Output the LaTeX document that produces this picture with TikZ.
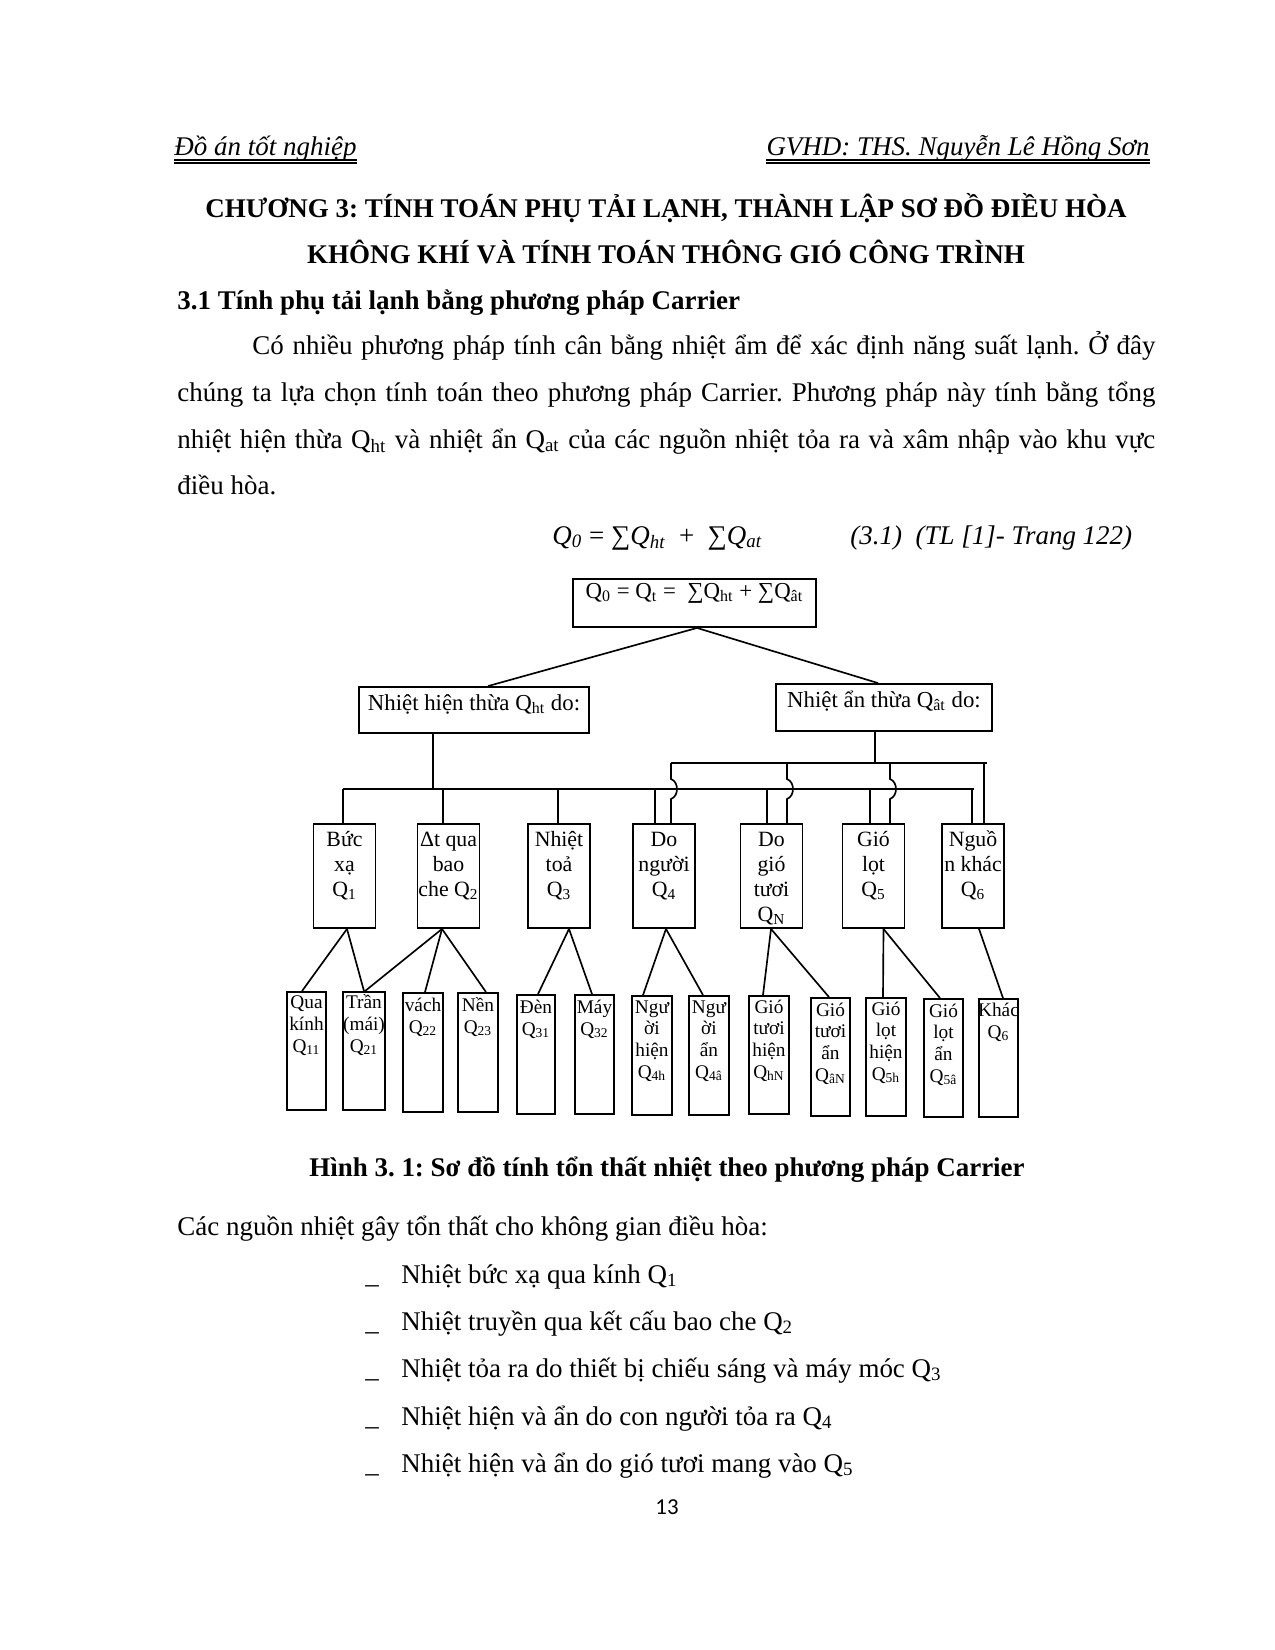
\documentclass[tikz,border=0pt]{standalone}
\usepackage{fontspec}
\setmainfont{Liberation Serif}
\newfontfamily\pnfont{Carlito}
\usetikzlibrary{calc}
\newdimen\pxu \pxu=0.48184pt
\newcommand\qsb[1]{\textsubscript{#1}}
\frenchspacing
\begin{document}
\begin{tikzpicture}[x=0.48184pt, y=-0.48184pt,
  body/.style={inner sep=0pt, font=\fontsize{13}{22.6}\selectfont},
  hd/.style={inner sep=0pt, font=\fontsize{13}{15}\selectfont\itshape},
  ttl/.style={inner sep=0pt, font=\fontsize{13}{15}\selectfont\bfseries},
  dt/.style={inner sep=0pt, anchor=base, font=\fontsize{11}{12}\selectfont},
  mtxt/.style={inner sep=0pt, align=center, anchor=base, font=\fontsize{10.5}{12}\selectfont},
  btxt/.style={inner sep=0pt, align=center, anchor=base, font=\fontsize{9.3}{10.4}\selectfont},
  box/.style={draw, line width=0.9pt, inner sep=0pt},
  mbox/.style={box, minimum width=62*\pxu, minimum height=104*\pxu},
  conn/.style={line width=0.8pt}]
\useasboundingbox (0,0) rectangle (1275,1650);
\fill[white] (0,0) rectangle (1275,1650);

% header
\node[hd, anchor=base west] (h1) at (174,155) {Đồ án tốt nghiệp};
\node[hd, anchor=base east] (h2) at (1150,155) {GVHD: THS. Nguyễn Lê Hồng Sơn};
\draw[line width=0.5pt] ($(h1.base west)+(0,5)$) -- ($(h1.base east)+(0,5)$);
\draw[line width=0.5pt] ($(h1.base west)+(0,8)$) -- ($(h1.base east)+(0,8)$);
\draw[line width=0.5pt] ($(h2.base west)+(0,5)$) -- ($(h2.base east)+(0,5)$);
\draw[line width=0.5pt] ($(h2.base west)+(0,8)$) -- ($(h2.base east)+(0,8)$);

% titles
\node[ttl, anchor=base] (t1) at (666,217) {CHƯƠNG 3: TÍNH TOÁN PHỤ TẢI LẠNH, THÀNH LẬP SƠ ĐỒ ĐIỀU HÒA};
\node[ttl, anchor=base] (t2) at (666,263) {KHÔNG KHÍ VÀ TÍNH TOÁN THÔNG GIÓ CÔNG TRÌNH};
\node[ttl, anchor=base west] (sec) at (177,309) {3.1 Tính phụ tải lạnh bằng phương pháp Carrier};

% paragraph
\node[body, anchor=base west] (p1) at (252,354) {\makebox[903\pxu][s]{Có nhiều phương pháp tính cân bằng nhiệt ẩm để xác định năng suất lạnh. Ở đây}};
\node[body, anchor=base west] (p2) at (177,401) {\makebox[978\pxu][s]{chúng ta lựa chọn tính toán theo phương pháp Carrier. Phương pháp này tính bằng tổng}};
\node[body, anchor=base west] (p3) at (177,448) {\makebox[978\pxu][s]{nhiệt hiện thừa Q\qsb{ht} và nhiệt ẩn Q\qsb{at} của các nguồn nhiệt tỏa ra và xâm nhập vào khu vực}};
\node[body, anchor=base west] (p4) at (177,494) {điều hòa.};

% formula
\node[body, anchor=base west] (f1) at (552,544) {\textit{Q\textsubscript{0}} = ∑\textit{Q\textsubscript{ht}} \ + \ ∑\textit{Q\textsubscript{at}}};
\node[body, anchor=base west] (f2) at (850,544) {\textit{(3.1) \ (TL [1]- Trang 122)}};

% ---------------- diagram ----------------
\node[box, minimum width=243*\pxu, minimum height=48*\pxu] (T) at (694.5,603) {};
\node[dt] (Tt) at (694.5,598) {Q\qsb{0} = Q\qsb{t} = \ ∑Q\qsb{ht} + ∑Q\qsb{ât}};
\node[box, minimum width=230*\pxu, minimum height=46*\pxu] (L) at (474,710) {};
\node[dt] (Lt) at (474,710) {Nhiệt hiện thừa Q\qsb{ht} do:};
\node[box, minimum width=216*\pxu, minimum height=47*\pxu] (R) at (884,707.5) {};
\node[dt] (Rt) at (884,707) {Nhiệt ẩn thừa Q\qsb{ât} do:};

\draw[conn] ($(T.south)+(2.5,0)$) -- ($(L.north)+(14,0)$);
\draw[conn] ($(T.south)+(2.5,0)$) -- ($(R.north)+(-6,0)$);

% middle boxes
\node[mbox] (m1) at (344.5,876) {};
\node[mbox] (m2) at (448.5,876) {};
\node[mbox] (m3) at (559,876) {};
\node[mbox] (m4) at (664,876) {};
\node[mbox] (m5) at (771.5,876) {};
\node[mbox] (m6) at (873.5,876) {};
\node[mbox] (m7) at (973,876) {};
% (base = last line; first line baseline at 846)
\node[mtxt] (m1t) at (344.5,896) {Bức\\xạ\\Q\qsb{1}};
\node[mtxt] (m2t) at (448.5,896) {Δt qua\\bao\\che Q\qsb{2}};
\node[mtxt] (m3t) at (559,896) {Nhiệt\\toả\\Q\qsb{3}};
\node[mtxt] (m4t) at (664,896) {Do\\người\\Q\qsb{4}};
\node[mtxt] (m5t) at (771.5,921) {Do\\gió\\tươi\\Q\qsb{N}};
\node[mtxt] (m6t) at (873.5,896) {Gió\\lọt\\Q\qsb{5}};
\node[mtxt] (m7t) at (973,896) {Nguồ\\n khác\\Q\qsb{6}};

% bus 1 (sensible)
\coordinate (j1) at (433,789);
\draw[conn] (L.south -| j1) -- (j1);
\coordinate (a1) at (343,789);
\coordinate (a2) at (443,789);
\coordinate (a3) at (558,789);
\coordinate (a4) at (655,789);
\coordinate (a5) at (767,789);
\coordinate (a6) at (870,789);
\coordinate (a7) at (972,789);
\coordinate (aE) at (974,789);
\draw[conn] (a1) -- (aE);
\foreach \i in {1,...,7} \draw[conn] (a\i) -- (m\i.north -| a\i);

% bus 2 (latent)
\coordinate (j2) at (875,763);
\draw[conn] (R.south -| j2) -- (j2);
\coordinate (u4) at (671,763);
\coordinate (u5) at (787,763);
\coordinate (u6) at (890,763);
\coordinate (u7) at (984,763);
\coordinate (uE) at (987,763);
\draw[conn] (u4) -- (uE);
\foreach \i in {4,5,6} \draw[conn] (u\i) -- ++(0,16) .. controls +(8,3) and +(8,-3) .. ++(0,20) -- (m\i.north -| u\i);
\draw[conn] (u7) -- (m7.north -| u7);

% bottom boxes
\node[box, minimum width=39*\pxu, minimum height=118*\pxu] (b1) at (306.5,1051) {};
\node[box, minimum width=42*\pxu, minimum height=118*\pxu] (b2) at (364,1051) {};
\node[box, minimum width=40*\pxu, minimum height=119*\pxu] (b3) at (423,1052.5) {};
\node[box, minimum width=40*\pxu, minimum height=119*\pxu] (b4) at (478,1052.5) {};
\node[box, minimum width=38*\pxu, minimum height=119*\pxu] (b5) at (536,1054.5) {};
\node[box, minimum width=39*\pxu, minimum height=119*\pxu] (b6) at (594.5,1054.5) {};
\node[box, minimum width=40*\pxu, minimum height=119*\pxu] (b7) at (652,1055.5) {};
\node[box, minimum width=40*\pxu, minimum height=119*\pxu] (b8) at (709,1055.5) {};
\node[box, minimum width=40*\pxu, minimum height=118*\pxu] (b9) at (769,1055) {};
\node[box, minimum width=39*\pxu, minimum height=118*\pxu] (b10) at (830.5,1057) {};
\node[box, minimum width=40*\pxu, minimum height=118*\pxu] (b11) at (886,1057) {};
\node[box, minimum width=39*\pxu, minimum height=118*\pxu] (b12) at (943.5,1058) {};
\node[box, minimum width=39*\pxu, minimum height=118*\pxu] (b13) at (998.5,1058) {};

% (base = last line)
\node[btxt] (b1t) at (306.5,1052) {Qua\\kính\\Q\qsb{11}};
\node[btxt] (b2t) at (364,1052) {Trần\\(mái)\\Q\qsb{21}};
\node[btxt] (b3t) at (423,1033) {vách\\Q\qsb{22}};
\node[btxt] (b4t) at (478,1033) {Nền\\Q\qsb{23}};
\node[btxt] (b5t) at (536,1035) {Đèn\\Q\qsb{31}};
\node[btxt] (b6t) at (594.5,1035) {Máy\\Q\qsb{32}};
\node[btxt] (b7t) at (652,1078) {Ngư\\ời\\hiện\\Q\qsb{4h}};
\node[btxt] (b8t) at (709,1078) {Ngư\\ời\\ẩn\\Q\qsb{4â}};
\node[btxt] (b9t) at (769,1078) {Gió\\tươi\\hiện\\Q\qsb{hN}};
\node[btxt] (b10t) at (830.5,1081) {Gió\\tươi\\ẩn\\Q\qsb{âN}};
\node[btxt] (b11t) at (886,1080) {Gió\\lọt\\hiện\\Q\qsb{5h}};
\node[btxt] (b12t) at (943.5,1082) {Gió\\lọt\\ẩn\\Q\qsb{5â}};
\node[btxt] (b13t) at (998.5,1038) {Khác\\Q\qsb{6}};

% lower connectors
\draw[conn] ($(m1.south)+(2.5,0)$) -- ($(b1.north)+(-4.5,0)$);
\draw[conn] ($(m1.south)+(2.5,0)$) -- (b2.north);
\draw[conn] ($(m2.south)+(-6.5,0)$) -- ($(b2.north)+(1,0)$);
\draw[conn] ($(m2.south)+(-6.5,0)$) -- ($(b3.north)+(2,0)$);
\draw[conn] ($(m2.south)+(-6.5,0)$) -- ($(b4.north)+(8,0)$);
\draw[conn] ($(m3.south)+(10,0)$) -- ($(b5.north)+(2,0)$);
\draw[conn] ($(m3.south)+(10,0)$) -- ($(b6.north)+(-2.5,0)$);
\draw[conn] ($(m4.south)+(2,0)$) -- ($(b7.north)+(-9,0)$);
\draw[conn] ($(m4.south)+(2,0)$) -- ($(b8.north)+(-6,0)$);
\draw[conn] ($(m5.south)+(-0.5,0)$) -- ($(b9.north)+(-6,0)$);
\draw[conn] ($(m5.south)+(-0.5,0)$) -- ($(b10.north)+(-1.5,0)$);
\draw[conn] ($(m6.south)+(10,0)$) -- ($(b11.north)+(-3,0)$);
\draw[conn] ($(m6.south)+(10,0)$) -- ($(b12.north)+(-3.5,0)$);
\draw[conn] ($(m7.south)+(6,0)$) -- ($(b13.north)+(4.5,0)$);

% caption and list
\node[ttl, anchor=base] (cap) at (667,1176) {Hình 3. 1: Sơ đồ tính tổn thất nhiệt theo phương pháp Carrier};
\node[body, anchor=base west] (c0) at (177,1235) {Các nguồn nhiệt gây tổn thất cho không gian điều hòa:};
\node[body, anchor=base west] (d1) at (365,1283) {\_};
\node[body, anchor=base west] (l1) at (401,1283) {Nhiệt bức xạ qua kính Q\qsb{1}};
\node[body, anchor=base west] (d2) at (365,1330) {\_};
\node[body, anchor=base west] (l2) at (401,1330) {Nhiệt truyền qua kết cấu bao che Q\qsb{2}};
\node[body, anchor=base west] (d3) at (365,1377) {\_};
\node[body, anchor=base west] (l3) at (401,1377) {Nhiệt tỏa ra do thiết bị chiếu sáng và máy móc Q\qsb{3}};
\node[body, anchor=base west] (d4) at (365,1425) {\_};
\node[body, anchor=base west] (l4) at (401,1425) {Nhiệt hiện và ẩn do con người tỏa ra Q\qsb{4}};
\node[body, anchor=base west] (d5) at (365,1472) {\_};
\node[body, anchor=base west] (l5) at (401,1472) {Nhiệt hiện và ẩn do gió tươi mang vào Q\qsb{5}};

\node[inner sep=0pt, anchor=base, font=\pnfont\fontsize{11}{13}\selectfont] (pg) at (667,1514) {13};
\end{tikzpicture}
\end{document}
